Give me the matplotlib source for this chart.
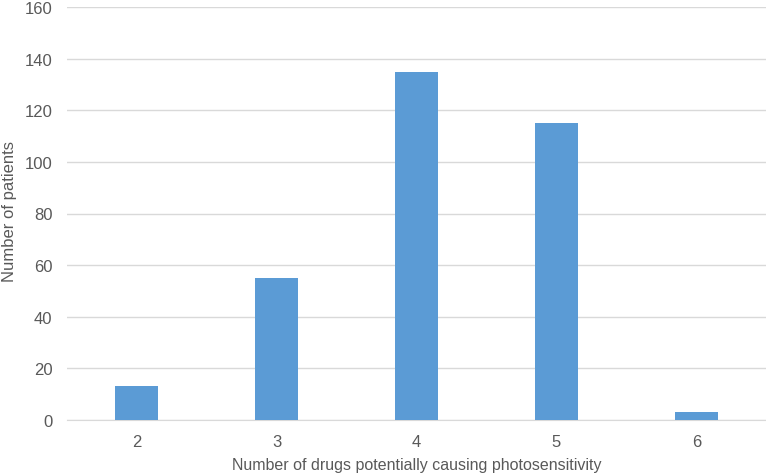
import matplotlib
matplotlib.use("Agg")
import matplotlib.pyplot as plt

# dados do grafico
categorias = ["2", "3", "4", "5", "6"]
pacientes = [13, 55, 135, 115, 3]
yticks = [0, 20, 40, 60, 80, 100, 120, 140, 160]

plt.rcParams["font.family"] = ["Liberation Sans", "DejaVu Sans"]
texto = "#595959"

fig = plt.figure(figsize=(7.66, 4.77), dpi=100)
ax = fig.add_axes([66.5 / 766, 1 - 421 / 477, 700 / 766, 413 / 477])

x = list(range(len(categorias)))
ax.bar(x, pacientes, width=0.31, color="#5B9BD5", zorder=3)

ax.set_xlim(-0.5, len(categorias) - 0.5)
ax.set_ylim(0, 160)
ax.set_yticks(yticks)
ax.set_xticks(x)
ax.set_xticklabels(categorias)
ax.grid(axis="y", color="#D9D9D9", linewidth=1, zorder=0)

for s in ["top", "right", "left"]:
    ax.spines[s].set_visible(False)
ax.spines["bottom"].set_color("#D9D9D9")
ax.tick_params(axis="both", length=0, labelsize=12, colors=texto)
ax.tick_params(axis="x", pad=10)
ax.tick_params(axis="y", pad=10)

ax.set_xlabel("Number of drugs potentially causing photosensitivity", fontsize=11.5, color=texto, labelpad=6)
# rotulo do eixo y posicionado a mao, centralizado
fig.text(9.5 / 766, 1 - 211 / 477, "Number of patients", fontsize=12, color=texto,
         rotation=90, ha="center", va="center")

fig.savefig("out.png", dpi=100)
